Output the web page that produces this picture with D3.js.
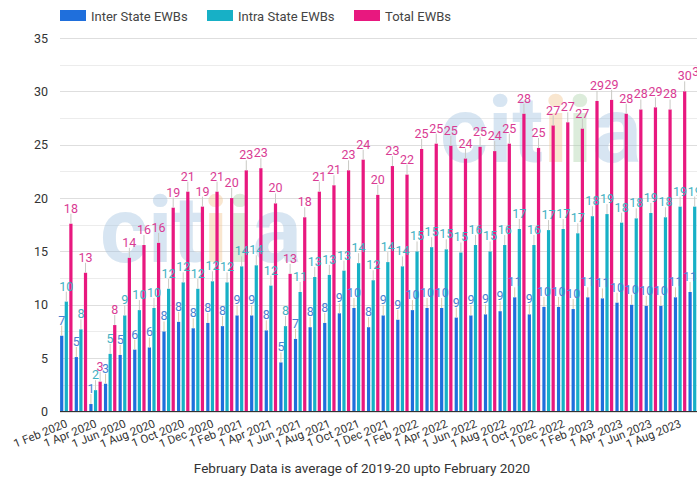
<!DOCTYPE html>
<html>
<head>
<meta charset="utf-8">
<script src="https://cdn.jsdelivr.net/npm/d3@7"></script>
<style>
  body { margin: 0; background: #fff; }
  svg { display: block; font-family: Roboto, "Noto Sans", sans-serif; }
</style>
</head>
<body>
<svg id="chart" width="697" height="485"></svg>
<script>
// monthly e-way bills (crore), Feb 2020 .. Sep 2023
const months = [
  "Feb 2020","Mar 2020","Apr 2020","May 2020","Jun 2020","Jul 2020","Aug 2020","Sep 2020","Oct 2020","Nov 2020","Dec 2020",
  "Jan 2021","Feb 2021","Mar 2021","Apr 2021","May 2021","Jun 2021","Jul 2021","Aug 2021","Sep 2021","Oct 2021","Nov 2021","Dec 2021",
  "Jan 2022","Feb 2022","Mar 2022","Apr 2022","May 2022","Jun 2022","Jul 2022","Aug 2022","Sep 2022","Oct 2022","Nov 2022","Dec 2022",
  "Jan 2023","Feb 2023","Mar 2023","Apr 2023","May 2023","Jun 2023","Jul 2023","Aug 2023","Sep 2023"
];
const interState = [7.1,5.1,0.7,2.6,5.3,5.8,6.0,7.5,8.4,7.8,8.3,
  8.0,9.0,9.0,7.6,4.6,6.8,7.9,8.3,9.2,9.7,7.9,9.0,
  8.6,9.5,9.7,9.7,8.8,9.0,9.1,9.4,10.7,9.1,9.8,9.8,
  9.6,10.7,10.6,10.2,10.0,9.9,9.9,10.7,11.2];
const intraState = [10.3,7.7,2.0,5.4,9.0,9.5,9.7,11.5,12.1,11.5,12.2,
  12.1,13.6,13.7,11.8,8.0,11.2,12.6,12.8,13.2,13.9,12.3,14.0,
  13.6,15.0,15.4,15.2,14.9,15.6,15.0,15.6,17.1,15.6,17.0,17.1,
  16.7,18.3,18.5,17.7,18.1,18.6,18.2,19.2,19.2];
const totalEwb = [17.6,13.0,2.8,8.1,14.4,15.6,15.8,19.1,20.6,19.2,20.6,
  20.0,22.6,22.8,19.5,12.9,18.2,20.6,21.2,22.6,23.6,20.3,23.0,
  22.2,24.6,25.1,24.9,23.7,24.8,24.4,25.1,27.9,24.7,26.8,27.1,
  26.5,29.1,29.2,27.9,28.3,28.5,28.3,30.0,30.4];
const seriesNames = ["Inter State EWBs", "Intra State EWBs", "Total EWBs"];
const yTicks = [0, 5, 10, 15, 20, 25, 30, 35];
const caption = "February Data is average of 2019-20 upto February 2020";

const colors = ["#1f6fdc", "#17b0c6", "#e8187f"];
const labelColors = ["#4a82d2", "#3fb1c2", "#d93b93"];

const series = [interState, intraState, totalEwb];
const rows = months.map((m, i) => ({ month: m, vals: series.map(s => s[i]) }));

const svg = d3.select("#chart");
const W = 697, H = 485;
const margin = { top: 38, left: 59, bottom: 73 };

const y = d3.scaleLinear().domain([0, 35]).range([H - margin.bottom - 0.5, margin.top]);

// plot runs past the right edge, the reference is cropped there
const x0 = d3.scaleBand().domain(months).range([59, 702])
  .paddingInner(0.15).paddingOuter(0.075);
const x1 = d3.scaleBand().domain(d3.range(3)).range([0, x0.bandwidth()])
  .paddingInner(0.3).paddingOuter(0);

// gridlines (major + half steps)
const gridVals = d3.range(0, 35.01, 2.5);
svg.append("g").selectAll("line").data(gridVals).enter().append("line")
  .attr("x1", 60).attr("x2", W)
  .attr("y1", d => Math.round(y(d)) + 0.5).attr("y2", d => Math.round(y(d)) + 0.5)
  .attr("stroke", d => d % 5 === 0 ? "#dedede" : "#ececec")
  .attr("stroke-width", 1);

// watermark
function watermark(xPos, yPos, size) {
  const t = svg.append("text")
    .attr("x", xPos).attr("y", yPos)
    .attr("font-size", size).attr("font-weight", "bold")
    .attr("opacity", 0.4);
  const parts = [["cit", "#9ec0df"], ["i", "#f2c28a"], ["i", "#a9d2a8"], ["a", "#9ec0df"]];
  parts.forEach(([s, c]) => t.append("tspan").attr("fill", c).text(s));
}
watermark(100, 262, 92);
watermark(440, 162, 92);

// y axis labels
svg.append("g").selectAll("text").data(yTicks).enter().append("text")
  .attr("x", 48).attr("y", d => y(d) + 4.5)
  .attr("text-anchor", "end")
  .attr("font-size", 12.5).attr("fill", "#333")
  .text(d => d);

// bars
const groups = svg.append("g").selectAll("g").data(rows).enter().append("g")
  .attr("transform", d => `translate(${x0(d.month)},0)`);

groups.selectAll("rect").data(d => d.vals).enter().append("rect")
  .attr("x", (d, i) => x1(i))
  .attr("y", d => y(d))
  .attr("width", x1.bandwidth())
  .attr("height", d => y(0) - y(d))
  .attr("fill", (d, i) => colors[i]);

// leader lines + value labels
groups.selectAll("line.lead").data(d => d.vals).enter().append("line")
  .attr("class", "lead")
  .attr("x1", (d, i) => x1(i) + x1.bandwidth() / 2)
  .attr("x2", (d, i) => x1(i) + x1.bandwidth() / 2)
  .attr("y1", d => y(d))
  .attr("y2", d => y(d) - 10)
  .attr("stroke", (d, i) => i === 0 ? "#d8c9ae" : "#c9c9c4")
  .attr("stroke-width", 1);

groups.selectAll("text.val").data(d => d.vals).enter().append("text")
  .attr("class", "val")
  .attr("x", (d, i) => x1(i) + x1.bandwidth() / 2)
  .attr("y", d => y(d) - 11)
  .attr("text-anchor", "middle")
  .attr("font-size", 12.5)
  .attr("fill", (d, i) => labelColors[i])
  .text(d => Math.round(d));

// baseline
svg.append("line")
  .attr("x1", 60).attr("x2", W)
  .attr("y1", y(0)).attr("y2", y(0))
  .attr("stroke", "#333").attr("stroke-width", 1.2);

// x tick labels every two months
svg.append("g").selectAll("text").data(months.filter((m, i) => i % 2 === 0)).enter().append("text")
  .attr("transform", d => `translate(${x0(d) + x0.bandwidth() / 2 + 2},${y(0) + 15}) rotate(-22)`)
  .attr("text-anchor", "end")
  .attr("font-size", 11.5).attr("fill", "#333")
  .text(d => "1 " + d);

// legend
const legX = [60, 207, 354];
const leg = svg.append("g").selectAll("g").data(seriesNames).enter().append("g")
  .attr("transform", (d, i) => `translate(${legX[i]},10)`);
leg.append("rect").attr("width", 26).attr("height", 11).attr("fill", (d, i) => colors[i]);
leg.append("text").attr("x", 31).attr("y", 10.5)
  .attr("font-size", 13).attr("fill", "#444").text(d => d);

// caption
svg.append("text")
  .attr("x", 362).attr("y", 473)
  .attr("text-anchor", "middle")
  .attr("font-size", 13.5).attr("fill", "#333")
  .text(caption);
</script>
</body>
</html>
